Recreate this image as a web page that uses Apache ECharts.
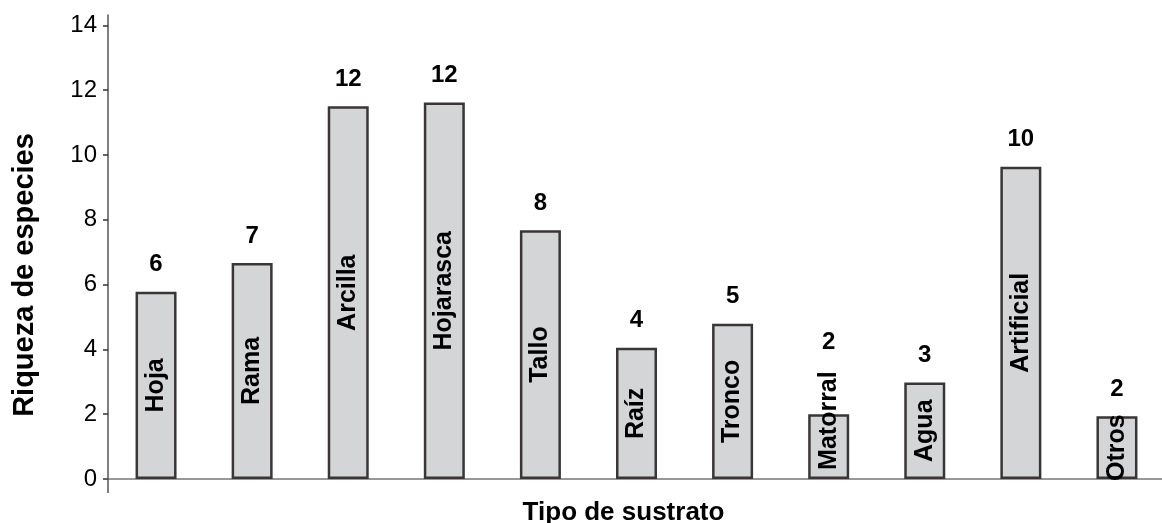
<!DOCTYPE html>
<html>
<head>
<meta charset="utf-8">
<script src="https://cdn.jsdelivr.net/npm/echarts@6/dist/echarts.min.js"></script>
<style>
  html, body { margin: 0; padding: 0; background: #fff; }
  #chart { width: 1162px; height: 523px; }
</style>
</head>
<body>
<div id="chart"></div>
<script>
// tipos de sustrato
const sustratos = ['Hoja', 'Rama', 'Arcilla', 'Hojarasca', 'Tallo', 'Raíz', 'Tronco', 'Matorral', 'Agua', 'Artificial', 'Otros'];
// altura de las barras tal como están dibujadas
const alturas = [5.78, 6.67, 11.5, 11.62, 7.68, 4.05, 4.79, 2.0, 2.98, 9.64, 1.94];
// riqueza de especies (etiquetas sobre las barras)
const riqueza = [6, 7, 12, 12, 8, 4, 5, 2, 3, 10, 2];
// marcas del eje y
const ticksY = [0, 2, 4, 6, 8, 10, 12, 14];

const fuente = 'Liberation Sans, Arial, sans-serif';

let myChart = echarts.init(document.getElementById('chart'));

myChart.setOption({
    animation: false,
    grid: {
        left: 108,
        top: 15,
        width: 1057,
        bottom: 44,
        outerBoundsMode: 'none',
        containLabel: false
    },
    xAxis: {
        type: 'category',
        data: sustratos,
        name: 'Tipo de sustrato',
        nameLocation: 'middle',
        nameGap: 21,
        nameTextStyle: { fontFamily: fuente, fontSize: 26, fontWeight: 'bold', color: '#000', padding: [0, 26, 0, 0] },
        axisLine: { lineStyle: { color: '#777', width: 1.5 } },
        axisTick: { show: true, interval: (i) => i === 0, length: 14, lineStyle: { color: '#555', width: 1.5 } },
        axisLabel: { show: false }
    },
    yAxis: {
        type: 'value',
        min: ticksY[0],
        max: 14.32,
        interval: 2,
        name: 'Riqueza de especies',
        nameLocation: 'middle',
        nameGap: 69,
        nameTextStyle: { fontFamily: fuente, fontSize: 29, fontWeight: 'bold', color: '#000', padding: [0, 56, 0, 0] },
        axisLine: { show: true, lineStyle: { color: '#555', width: 1.5 } },
        axisTick: { show: true, length: 5, lineStyle: { color: '#333', width: 1.5 } },
        axisLabel: {
            showMaxLabel: false,
            margin: 11,
            fontFamily: fuente, fontSize: 24, color: '#000',
            formatter: (v) => ticksY.includes(v) ? String(v) : ''
        },
        splitLine: { show: false }
    },
    series: [
        {
            name: 'sustrato',
            type: 'bar',
            barWidth: 41,
            data: alturas.map((v, i) => ({
                value: v,
                // el texto no cabe en la barra: se apoya sobre la base
                label: sustratos[i] === 'Matorral' ? { offset: [26, 0] } : {}
            })),
            itemStyle: { color: '#d4d5d7', borderColor: '#3b3636', borderWidth: 2.5 },
            label: {
                show: true,
                position: 'inside',
                rotate: 90,
                formatter: (p) => sustratos[p.dataIndex],
                fontFamily: fuente, fontSize: 25, fontWeight: 'bold', color: '#000'
            }
        },
        {
            name: 'riqueza',
            type: 'bar',
            barWidth: 41,
            barGap: '-100%',
            silent: true,
            data: alturas.map((v, i) => ({
                value: v,
                label: { distance: sustratos[i] === 'Matorral' ? 60 : 15 }
            })),
            itemStyle: { color: 'rgba(0,0,0,0)' },
            label: {
                show: true,
                position: 'top',
                formatter: (p) => String(riqueza[p.dataIndex]),
                fontFamily: fuente, fontSize: 24, fontWeight: 'bold', color: '#000'
            }
        }
    ]
});
</script>
</body>
</html>
